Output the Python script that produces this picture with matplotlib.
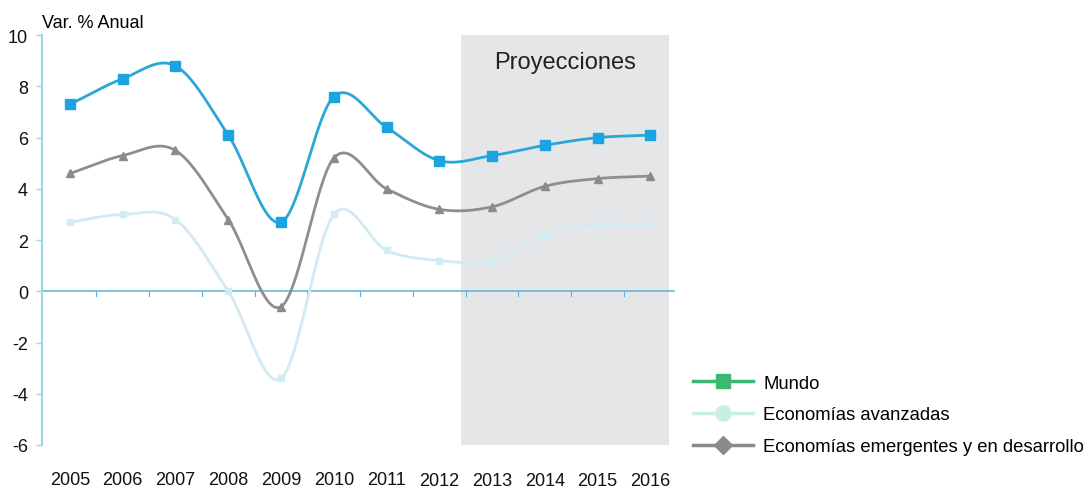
import numpy as np
import matplotlib
matplotlib.use("Agg")
import matplotlib.pyplot as plt
from matplotlib.lines import Line2D

plt.rcParams['font.family'] = ['Liberation Sans', 'DejaVu Sans']

years = [2005, 2006, 2007, 2008, 2009, 2010, 2011, 2012, 2013, 2014, 2015, 2016]
mundo = [7.3, 8.3, 8.8, 6.1, 2.7, 7.6, 6.4, 5.1, 5.3, 5.7, 6.0, 6.1]
avanzadas = [2.7, 3.0, 2.8, 0.0, -3.4, 3.0, 1.6, 1.2, 1.2, 2.2, 2.6, 2.6]
emergentes = [4.6, 5.3, 5.5, 2.8, -0.6, 5.2, 4.0, 3.2, 3.3, 4.1, 4.4, 4.5]
y_ticks = [10, 8, 6, 4, 2, 0, -2, -4, -6]


def smooth(x, y, n=40):
    # catmull-rom style smoothing like spreadsheet "smoothed line"
    x = np.asarray(x, float)
    y = np.asarray(y, float)
    px = np.concatenate([[2 * x[0] - x[1]], x, [2 * x[-1] - x[-2]]])
    py = np.concatenate([[2 * y[0] - y[1]], y, [2 * y[-1] - y[-2]]])
    xs, ys = [], []
    t = np.linspace(0, 1, n)
    for i in range(1, len(px) - 2):
        for arr, out in ((px, xs), (py, ys)):
            p0, p1, p2, p3 = arr[i - 1], arr[i], arr[i + 1], arr[i + 2]
            out.append(0.5 * ((2 * p1) + (-p0 + p2) * t
                              + (2 * p0 - 5 * p1 + 4 * p2 - p3) * t ** 2
                              + (-p0 + 3 * p1 - 3 * p2 + p3) * t ** 3))
    return np.concatenate(xs), np.concatenate(ys)


fig = plt.figure(figsize=(10.88, 4.89), dpi=100)
ax = fig.add_axes([0.0386, 0.088, 0.582, 0.838])
ax.set_xlim(2004.47, 2016.47)
ax.set_ylim(-6, 10)

# projection band
ax.axvspan(2012.41, 2016.36, color='#e4e6e8', zorder=0, lw=0)
ax.text(2014.38, 8.95, 'Proyecciones', ha='center', va='center', fontsize=17, color='#222222')

# zero line with small ticks between years
ax.axhline(0, color='#5ab4d8', lw=1.1, zorder=1)
for b in np.arange(2005.5, 2016.5, 1):
    ax.plot([b, b], [0, -0.18], color='#5ab4d8', lw=0.8, zorder=1)

series = [
    (avanzadas, '#d2eaf3', 's', 5, '#d3ebf5'),
    (emergentes, '#8e8e8e', '^', 6, '#8a8a8a'),
    (mundo, '#2ba7d6', 's', 7.5, '#1aa5e2'),
]
for vals, lc, mk, ms, mc in series:
    sx, sy = smooth(years, vals)
    ax.plot(sx, sy, color=lc, lw=2, zorder=2, solid_capstyle='round')
    ax.plot(years, vals, ls='none', marker=mk, ms=ms, color=mc, zorder=3)

for s in ['top', 'right', 'bottom']:
    ax.spines[s].set_visible(False)
ax.spines['left'].set_color('#9fd3e8')
ax.spines['left'].set_linewidth(1.5)
ax.set_yticks(y_ticks)
ax.set_yticklabels([str(v) for v in y_ticks], fontsize=13)
ax.tick_params(axis='y', colors='#9fd3e8', labelcolor='#111111', length=4, width=1, pad=6)
ax.set_xticks([])

# year labels (projection years sit slightly lower, as in the source)
for yr in years:
    off = -24.6 if yr < 2012 else -25.8
    ax.annotate(str(yr), (yr, -6), xytext=(0, off), textcoords='offset points',
                ha='center', va='center', fontsize=13, color='#111111')
ax.text(0.0386, 0.943, 'Var. % Anual', transform=fig.transFigure, ha='left', va='baseline', fontsize=13)

handles = [
    Line2D([], [], color='#3cb873', lw=2.5, marker='s', ms=9.5, mfc='#3cb873', mec='#3cb873'),
    Line2D([], [], color='#c9efe0', lw=2.5, marker='o', ms=11, mfc='#c9efe0', mec='#c9efe0'),
    Line2D([], [], color='#8a8a8d', lw=2.5, marker='D', ms=9, mfc='#8a8a8d', mec='#8a8a8d'),
]
labels = ['Mundo', 'Economías avanzadas', 'Economías emergentes y en desarrollo']
fig.legend(handles, labels, loc='upper left', bbox_to_anchor=(0.630, 0.247), frameon=False,
           fontsize=13.3, handlelength=3.25, labelspacing=0.8, handletextpad=0.55, borderaxespad=0)

fig.savefig('out.png', dpi=100)
